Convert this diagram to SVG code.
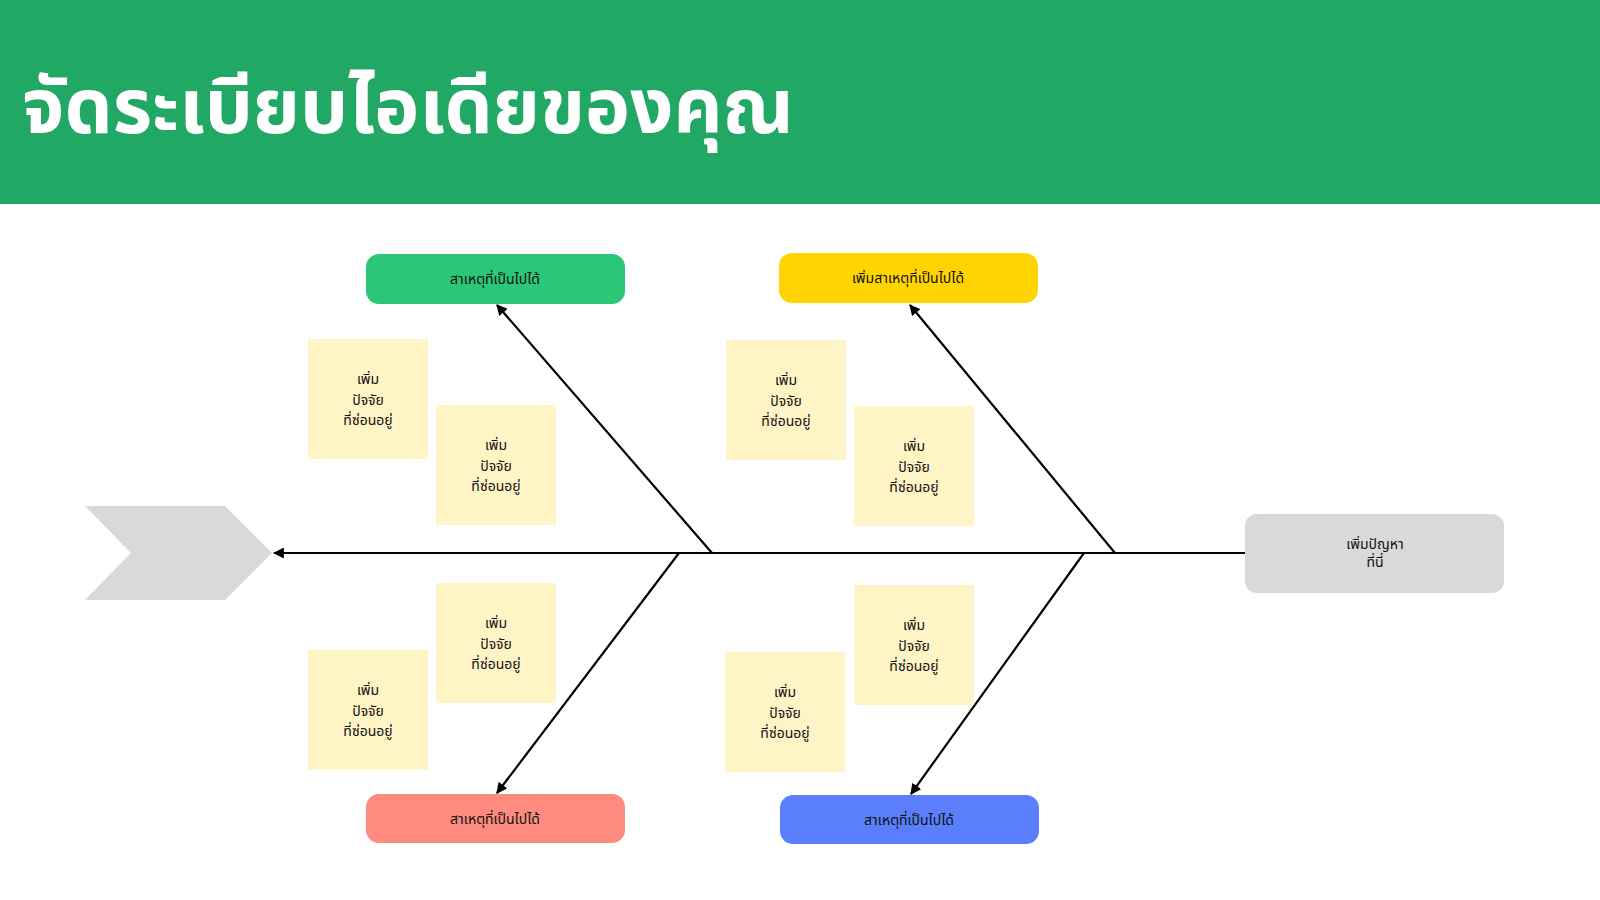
<svg xmlns="http://www.w3.org/2000/svg" width="1600" height="900" viewBox="0 0 1600 900">
<defs>
<style>
text{font-family:"Noto Sans Thai","Noto Sans","DejaVu Sans",sans-serif;fill:#111;text-anchor:middle}
.s{fill:#fff4c6}
.t{font-size:14px}
.c line{stroke:#000;stroke-width:2.2}
</style>
<marker id="a" viewBox="0 0 10 10" refX="9" refY="5" markerWidth="5" markerHeight="5" orient="auto"><path d="M0 0L10 5L0 10z" fill="#000"/></marker>
</defs>
<rect width="1600" height="900" fill="#fff"/>
<rect width="1600" height="204" fill="#22a865"/>
<text x="22" y="133" style="font-size:76px;font-weight:bold;fill:#fff;text-anchor:start">จัดระเบียบไอเดียของคุณ</text>
<g class="c">
<line x1="1245" y1="553" x2="274" y2="553" marker-end="url(#a)"/>
<line x1="712" y1="553" x2="497" y2="305" marker-end="url(#a)"/>
<line x1="1115" y1="553" x2="910" y2="305" marker-end="url(#a)"/>
<line x1="679" y1="553" x2="497" y2="793" marker-end="url(#a)"/>
<line x1="1084" y1="553" x2="911" y2="794" marker-end="url(#a)"/>
</g>
<g id="head"><polygon points="85,506 225,506 272,553 225,600 85,600 131,553" fill="#d9d9d9"/></g>
<g id="problem"><rect x="1245" y="514" width="259" height="79" rx="12" fill="#d9d9d9"/><text class="t" x="1375" y="549">เพิ่มปัญหา</text><text class="t" x="1375" y="567">ที่นี่</text></g>
<g id="c1"><rect x="366" y="254" width="259" height="50" rx="13" fill="#2cc776"/><text class="t" x="495" y="284">สาเหตุที่เป็นไปได้</text></g>
<g id="c2"><rect x="779" y="253" width="259" height="50" rx="13" fill="#ffd400"/><text class="t" x="908" y="283">เพิ่มสาเหตุที่เป็นไปได้</text></g>
<g id="c3"><rect x="366" y="794" width="259" height="49" rx="13" fill="#ff8a80"/><text class="t" x="495" y="824">สาเหตุที่เป็นไปได้</text></g>
<g id="c4"><rect x="780" y="795" width="259" height="49" rx="13" fill="#5b7ffc"/><text class="t" x="909" y="825">สาเหตุที่เป็นไปได้</text></g>
<g id="s1"><rect class="s" x="308" y="339" width="120" height="120"/><text class="t" x="368" y="384">เพิ่ม</text><text class="t" x="368" y="405">ปัจจัย</text><text class="t" x="368" y="425">ที่ซ่อนอยู่</text></g>
<g id="s2"><rect class="s" x="436" y="405" width="120" height="120"/><text class="t" x="496" y="450">เพิ่ม</text><text class="t" x="496" y="471">ปัจจัย</text><text class="t" x="496" y="491">ที่ซ่อนอยู่</text></g>
<g id="s3"><rect class="s" x="726" y="340" width="120" height="120"/><text class="t" x="786" y="385">เพิ่ม</text><text class="t" x="786" y="406">ปัจจัย</text><text class="t" x="786" y="426">ที่ซ่อนอยู่</text></g>
<g id="s4"><rect class="s" x="854" y="406" width="120" height="120"/><text class="t" x="914" y="451">เพิ่ม</text><text class="t" x="914" y="472">ปัจจัย</text><text class="t" x="914" y="492">ที่ซ่อนอยู่</text></g>
<g id="s5"><rect class="s" x="436" y="583" width="120" height="120"/><text class="t" x="496" y="628">เพิ่ม</text><text class="t" x="496" y="649">ปัจจัย</text><text class="t" x="496" y="669">ที่ซ่อนอยู่</text></g>
<g id="s6"><rect class="s" x="308" y="650" width="120" height="120"/><text class="t" x="368" y="695">เพิ่ม</text><text class="t" x="368" y="716">ปัจจัย</text><text class="t" x="368" y="736">ที่ซ่อนอยู่</text></g>
<g id="s7"><rect class="s" x="854" y="585" width="120" height="120"/><text class="t" x="914" y="630">เพิ่ม</text><text class="t" x="914" y="651">ปัจจัย</text><text class="t" x="914" y="671">ที่ซ่อนอยู่</text></g>
<g id="s8"><rect class="s" x="725" y="652" width="120" height="120"/><text class="t" x="785" y="697">เพิ่ม</text><text class="t" x="785" y="718">ปัจจัย</text><text class="t" x="785" y="738">ที่ซ่อนอยู่</text></g>
</svg>
